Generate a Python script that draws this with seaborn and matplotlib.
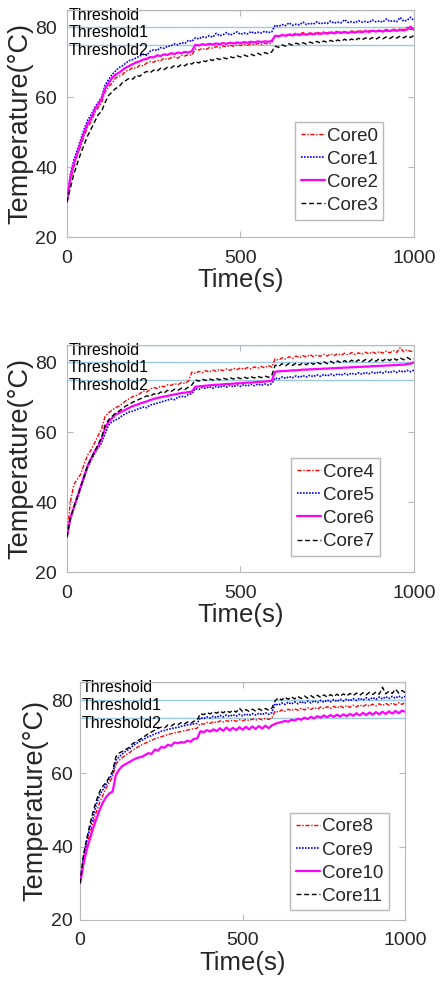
import numpy as np
import pandas as pd
import matplotlib
matplotlib.use('Agg')
import matplotlib.pyplot as plt
import seaborn as sns

# sample times (s)
time = np.arange(0, 1001, 10)

# thresholds (deg C)
thresholds = [85, 80, 75]
threshold_labels = ['Threshold', 'Threshold1', 'Threshold2']

# panel 1
core0 = [30, 36, 40, 43.5, 46, 49, 51.5, 53, 55.5, 57, 58.5, 61.5, 63, 64, 65.5, 66, 66.5, 67.5, 67.8, 68.5,
         68.3, 69.2, 69, 69.8, 70.2, 70, 70.6, 70.4, 71.2, 70.8, 71.3, 71.5, 71.2, 72, 71.8, 72.2, 72, 73.8, 73.5, 74,
         73.6, 74.2, 74, 74.5, 74.1, 74.7, 74.4, 74.9, 74.6, 75, 74.8, 75.2, 74.9, 75.3, 75, 75.4, 75.1, 75.5, 75.2, 75.6,
         77.8, 77.5, 78, 77.6, 78.2, 77.9, 78.3, 78, 78.5, 78.1, 78.4, 78.2, 78.6, 78.3, 78.7, 78.4, 78.8, 78.5, 78.9, 78.6,
         78.8, 78.5, 79, 78.7, 79.1, 78.8, 79.2, 78.9, 79.3, 78.9, 79.2, 79, 79.4, 79.1, 79.5, 79.2, 79.6, 79.3, 80, 79.4,
         79.5]
core1 = [30, 38, 42, 45, 48, 51, 53.5, 55, 57, 58.5, 60, 63.5, 65, 66.5, 67.5, 68.5, 69, 69.8, 70.5, 70.8,
         71.3, 71.8, 72.3, 72, 73.2, 73.6, 73.4, 74.2, 74, 74.6, 74.7, 75.3, 75, 75.6, 75.4, 76.3, 76, 77, 76.7, 77.3,
         77.1, 77.6, 77.2, 78.3, 77.6, 77.9, 78.5, 77.8, 78.2, 78.7, 78, 78.4, 78.1, 78.8, 78.3, 78.6, 78.4, 78.9, 78.5, 78.7,
         80.6, 80.3, 80.8, 80.5, 81.3, 80.6, 80.9, 80.7, 81.5, 80.8, 81.2, 80.9, 81.6, 81, 81.3, 81.1, 81.8, 81.2, 81.5, 81.3,
         82.2, 81.4, 81.6, 81.3, 81.9, 81.5, 81.7, 81.4, 82.1, 81.6, 81.8, 81.5, 82.4, 81.7, 81.9, 81.6, 82.8, 81.8, 82, 82.9,
         81.9]
core2 = [30, 37, 41, 44, 47, 50, 52.5, 54, 56.5, 58, 59.5, 62.5, 64, 65.5, 66.5, 67, 67.8, 68.5, 69, 69.5,
         70, 70.3, 70.8, 71, 71.5, 71.4, 72, 71.8, 72.3, 72.1, 72.6, 72.4, 72.8, 72.6, 73, 72.8, 73.2, 75, 74.8, 75.2,
         75, 75.3, 75.1, 75.4, 75.2, 75.5, 75.3, 75.6, 75.4, 75.7, 75.5, 75.8, 75.6, 75.9, 75.7, 76, 75.8, 76, 75.9, 76.1,
         77.6, 77.4, 77.8, 77.6, 77.9, 77.7, 78, 77.8, 78.1, 77.9, 78.2, 78, 78.3, 78.1, 78.4, 78.2, 78.5, 78.3, 78.6, 78.4,
         78.6, 78.4, 78.7, 78.5, 78.8, 78.6, 78.9, 78.7, 79, 78.8, 79, 78.8, 79.1, 78.9, 79.2, 79, 79.3, 79.1, 79.4, 80.2,
         79.3]
core3 = [30, 34, 38, 41, 44, 46.5, 49, 51, 53, 55, 56, 58.5, 60.5, 61.5, 62.5, 63, 64.2, 64.8, 65.5, 65.2,
         66.3, 66, 66.9, 67.4, 67, 67.8, 67.5, 68.3, 67.9, 68.6, 68.4, 69.1, 68.7, 69.4, 69, 69.8, 69.5, 70.3, 69.8, 70.5,
         70.2, 70.9, 70.5, 71.2, 70.8, 71.4, 71, 71.6, 71.3, 71.9, 71.5, 72.1, 71.7, 72.3, 71.9, 72.6, 72.1, 72.8, 72.4, 73,
         74.6, 74.3, 75, 74.6, 75.3, 74.9, 75.5, 75.1, 75.6, 75.2, 75.8, 75.4, 76, 75.5, 76.1, 75.7, 76.3, 75.8, 76.4, 76,
         76.6, 76.1, 76.7, 76.2, 76.9, 76.4, 77, 76.5, 77.1, 76.6, 77.2, 76.7, 77.3, 76.8, 77.4, 76.9, 77.5, 77, 77.6, 77.1,
         77.7]

# panel 2
core4 = [30, 40, 45, 46.5, 48, 51, 53.5, 55, 57, 59, 61, 64.5, 65.5, 66.3, 67, 67.5, 68.2, 69, 69.6, 70.2,
         70.5, 71, 71.8, 71.5, 72.3, 72.8, 72.5, 73.2, 73, 73.6, 73.4, 73.9, 73.6, 74.2, 74, 74.6, 77.2, 76.8, 77.4, 77,
         77.6, 77.2, 77.8, 77.4, 78, 77.6, 78.1, 77.7, 78.3, 77.9, 78.4, 78, 78.5, 78.1, 78.7, 78.3, 78.8, 78.4, 79.1, 78.6,
         81, 80.6, 81.3, 80.9, 81.6, 81.1, 81.8, 81.3, 81.9, 81.5, 82.2, 81.6, 82.1, 81.7, 82.3, 81.8, 82.4, 81.9, 82.5, 82,
         82.6, 82.1, 82.8, 82.2, 82.7, 82.3, 82.9, 82.4, 83, 82.5, 83.1, 82.6, 83.2, 82.7, 83.3, 82.8, 84.2, 83, 83.6, 83.1,
         83.2]
core5 = [30, 35, 38, 41, 44, 47, 50, 52, 54, 55.5, 57, 59.5, 62, 63, 63.5, 64, 64.8, 65.3, 65.8, 66,
         66.5, 66.8, 67.2, 67, 67.8, 68, 68.3, 68.6, 68.9, 69.2, 69.5, 69.3, 70, 70.3, 70.1, 70.8, 71, 72.5, 72.2, 72.8,
         72.5, 73, 72.6, 73.1, 72.8, 73.3, 72.9, 73.4, 73, 73.5, 73.1, 73.6, 73.2, 73.7, 73.3, 73.8, 73.4, 73.8, 73.5, 73.9,
         75.5, 75.2, 75.8, 75.4, 75.9, 75.6, 76.1, 75.7, 76.2, 75.8, 76.3, 75.9, 76.4, 76, 76.5, 76.1, 76.6, 76.2, 76.7, 76.3,
         76.8, 76.4, 76.9, 76.5, 77, 76.6, 77.1, 76.7, 77.2, 76.8, 77.3, 76.9, 77.4, 77, 77.5, 77.1, 77.6, 77.2, 77.7, 77.3,
         77.8]
core6 = [30, 35.5, 38.5, 41.5, 44.5, 47.5, 50.5, 52.5, 54.5, 56, 58, 61, 63, 64, 65, 65.5, 66, 66.5, 67, 67.5,
         67.8, 68.2, 68.5, 68.8, 69.2, 69.5, 69.8, 70, 70.2, 70.4, 70.6, 70.8, 71, 71.2, 71.3, 71.5, 71.6, 73, 73.1, 73.2,
         73.3, 73.4, 73.5, 73.6, 73.6, 73.7, 73.8, 73.8, 73.9, 74, 74, 74.1, 74.2, 74.2, 74.3, 74.4, 74.4, 74.5, 74.6, 74.7,
         77.3, 77.4, 77.5, 77.5, 77.6, 77.7, 77.7, 77.8, 77.9, 77.9, 78, 78, 78.1, 78.1, 78.2, 78.2, 78.3, 78.3, 78.4, 78.4,
         78.5, 78.5, 78.6, 78.6, 78.7, 78.7, 78.8, 78.8, 78.9, 78.9, 79, 79, 79.1, 79.1, 79.2, 79.2, 79.3, 79.3, 79.5, 79.6,
         80]
core7 = [30, 35.5, 38.5, 41.5, 44.5, 47.5, 50.5, 52.5, 54.5, 56.5, 58.5, 62, 63.5, 64.5, 65.5, 66, 66.8, 67.5, 68, 68.6,
         69, 69.5, 69.9, 70.4, 70.2, 71, 70.7, 71.5, 71.2, 72, 71.6, 72.3, 72, 72.6, 72.2, 72.9, 73.5, 75, 74.6, 75.2,
         74.8, 75.3, 74.9, 75.4, 75, 75.5, 75.1, 75.6, 75.2, 75.7, 75.3, 75.8, 75.4, 75.9, 75.5, 76, 75.6, 76.1, 75.7, 76.2,
         79.2, 78.8, 79.6, 79, 79.7, 79.1, 79.8, 79.2, 79.9, 79.3, 80, 79.4, 80.1, 79.5, 80.2, 79.6, 80.3, 79.7, 80.4, 79.8,
         80.5, 79.9, 80.6, 80, 80.7, 80.1, 80.8, 80.2, 80.9, 80.3, 81, 80.4, 81.1, 80.5, 81.2, 80.6, 81.3, 80.7, 81.4, 80.8,
         81]

# panel 3
core8 = [30, 36, 40, 43.5, 46.5, 49.5, 52, 54, 56, 57.5, 59, 62.5, 63.5, 64.3, 65, 65.5, 66.2, 66.8, 67.3, 67.8,
         68.2, 68.6, 69, 69.4, 69.7, 70, 70.3, 70.6, 70.8, 71, 71.2, 71.4, 71.6, 71.8, 72, 72.2, 72.3, 73.6, 73.4, 73.9,
         73.6, 74.1, 73.8, 74.3, 74, 74.4, 74.1, 74.5, 74.2, 74.6, 74.3, 74.7, 74.4, 74.8, 74.5, 74.9, 74.6, 75, 74.7, 75.1,
         77, 76.7, 77.3, 76.9, 77.5, 77.1, 77.6, 77.2, 77.8, 77.3, 77.9, 77.4, 78, 77.5, 78.1, 77.6, 78.2, 77.7, 78.3, 77.8,
         78.4, 77.9, 78.5, 78, 78.6, 78.1, 78.7, 78.2, 78.8, 78.3, 78.9, 78.4, 79, 78.5, 79.1, 78.6, 79.2, 78.7, 79.3, 78.8,
         79.4]
core9 = [30, 37, 41.5, 45, 48, 51.5, 54, 55.5, 57, 58.5, 60, 63.5, 64.5, 65.3, 66, 66.5, 67.3, 68, 68.5, 69,
         69.5, 70, 70.3, 70.8, 71, 71.5, 71.7, 72, 72.2, 72.4, 72.5, 72.8, 73, 73.2, 73.3, 73.5, 73.6, 75.2, 74.9, 75.4,
         75.1, 75.6, 75.2, 75.8, 75.4, 75.9, 75.5, 76, 75.6, 76.1, 75.7, 76.2, 75.8, 76.3, 75.9, 76.4, 76, 76.5, 76.1, 76.6,
         79, 78.6, 79.2, 78.8, 79.4, 78.9, 79.5, 79, 79.6, 79.1, 79.7, 79.2, 79.8, 79.3, 79.9, 79.4, 80, 79.5, 80.1, 79.6,
         80.2, 79.7, 80.3, 79.8, 80.4, 79.9, 80.5, 80, 80.6, 80.1, 80.7, 80.2, 80.8, 80.3, 80.9, 80.4, 81, 80.5, 81.1, 80.6,
         81]
core10 = [30, 35, 39, 42, 45, 47.5, 50, 52, 53.5, 54.5, 55, 59.5, 61, 62, 62.5, 63, 63.5, 64, 64.3, 64.5,
          65, 65.5, 65.3, 66.5, 66.2, 67.2, 67, 67.8, 67.5, 68.4, 68.2, 68.5, 68.4, 68.9, 68.6, 69.4, 69.5, 71.5, 71.2, 71.8,
          71.4, 72, 71.5, 72.3, 71.6, 72.5, 71.7, 72.4, 71.8, 72.6, 71.9, 72.7, 72, 72.8, 72.1, 72.9, 72.2, 73, 72.3, 73.1,
          73.5, 73.8, 74, 74.3, 74.1, 74.6, 74.4, 74.9, 74.6, 75.2, 74.8, 75.4, 75, 75.6, 75.2, 75.8, 75.3, 75.9, 75.4, 76,
          75.5, 76.1, 75.6, 76.2, 75.7, 76.4, 75.8, 76.5, 75.9, 76.6, 76, 76.7, 76.1, 76.8, 76.2, 76.9, 76.3, 77, 76.4, 77.1,
          76.8]
core11 = [30, 37.5, 42, 46, 49.5, 52.5, 55, 56.5, 57.5, 59, 60.5, 64.5, 65.5, 66, 66.5, 67, 68, 68.5, 69, 69.6,
          70.2, 70.8, 71.3, 71.8, 72.3, 72.6, 72.4, 73.2, 72.9, 73.5, 73.2, 73.8, 73.4, 74, 73.6, 74.2, 74.5, 76.3, 76, 76.6,
          76.2, 76.8, 76.4, 77, 76.5, 77.1, 76.6, 77.2, 76.7, 77.8, 76.8, 77.4, 76.9, 77.5, 77, 77.6, 77.1, 77.7, 77.2, 77.8,
          79.8, 80.6, 80, 80.8, 80.2, 80.9, 80.3, 81, 80.4, 81.1, 80.5, 81.2, 80.6, 81.3, 80.7, 81.4, 80.8, 81.5, 80.9, 81.6,
          81, 81.7, 81.1, 81.8, 81.2, 81.9, 81.3, 82, 81.4, 82.1, 81.5, 82.2, 81.6, 83.5, 81.7, 82.4, 81.8, 83, 81.9, 82.6,
          82]

panels = [
    (['Core0', 'Core1', 'Core2', 'Core3'], [core0, core1, core2, core3]),
    (['Core4', 'Core5', 'Core6', 'Core7'], [core4, core5, core6, core7]),
    (['Core8', 'Core9', 'Core10', 'Core11'], [core8, core9, core10, core11]),
]

# MATLAB-like short dash patterns
styles = [
    dict(color='#ff0000', linestyle=(0, (3, 1.2, 1, 1.2)), linewidth=1.0),
    dict(color='#0000ff', linestyle=(0, (1, 0.8)), linewidth=1.2),
    dict(color='#ff00ff', linestyle='-', linewidth=1.6),
    dict(color='#000000', linestyle=(0, (3.5, 2)), linewidth=1.0),
]

sns.set_style('white')
plt.rcParams['font.family'] = ['Liberation Sans', 'DejaVu Sans']

fig = plt.figure(figsize=(4.4, 9.88), dpi=100)
positions = [
    [0.152, 0.760, 0.789, 0.230],
    [0.152, 0.421, 0.789, 0.230],
    [0.182, 0.069, 0.739, 0.241],
]
legend_anchor = [(0.657, 0.507), (0.646, 0.502), (0.646, 0.45)]
ytick_pad = [7, 7, 5]
ylabel_x = [-0.097, -0.097, -0.097]
spine_col = '#b8b8b8'
text_col = '#262626'

for (names, series), pos, anchor, ypad, ylx in zip(panels, positions, legend_anchor,
                                                   ytick_pad, ylabel_x):
    ax = fig.add_axes(pos)
    for thr, lab in zip(thresholds, threshold_labels):
        ax.axhline(thr, color='#9ecae1', linewidth=1.0, zorder=1)
        ax.text(6, thr - 1.5, lab, fontsize=11.5, va='center', ha='left',
                color='black', zorder=2)
    for name, vals, st in zip(names, series, styles):
        assert len(vals) == len(time), name
        df = pd.DataFrame({'t': time, 'v': vals})
        sns.lineplot(data=df, x='t', y='v', ax=ax, label=name, zorder=3, **st)
    ax.set_xlim(0, 1000)
    ax.set_ylim(20, 85)
    ax.set_xticks([0, 500, 1000])
    ax.set_yticks([20, 40, 60, 80])
    ax.set_xlabel('Time(s)', fontsize=18.5, color=text_col, labelpad=1)
    ax.set_ylabel('Temperature(°C)', fontsize=19.5, color=text_col)
    ax.yaxis.set_label_coords(ylx, 0.5)
    ax.tick_params(direction='in', length=4, width=0.8, colors=spine_col,
                   labelcolor=text_col, labelsize=14, top=True, right=True,
                   bottom=True, left=True)
    ax.tick_params(axis='x', pad=9)
    ax.tick_params(axis='y', pad=ypad)
    for sp in ax.spines.values():
        sp.set_color(spine_col)
        sp.set_linewidth(0.8)
    ax.legend(loc='upper left', bbox_to_anchor=anchor, fontsize=13.5,
              frameon=True, fancybox=False, framealpha=1, edgecolor=spine_col,
              handlelength=1.3, handletextpad=0.1, labelspacing=0.32,
              borderpad=0.3, borderaxespad=0)

fig.savefig('out.png', dpi=100)
plt.close(fig)
